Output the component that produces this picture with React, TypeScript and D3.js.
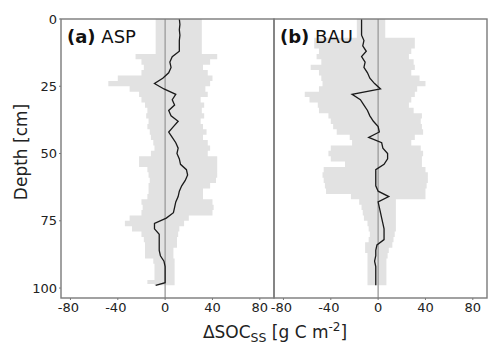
import React from "react";
import * as d3 from "d3";

// depth of each sample, cm
const depths = [
  0, 2, 4, 6, 8, 10, 12, 14, 16, 18, 20, 22, 24, 26, 28, 30, 32, 34, 36, 38,
  40, 42, 44, 46, 48, 50, 52, 54, 56, 58, 60, 62, 64, 66, 68, 70, 72, 74, 76,
  78, 80, 82, 84, 86, 88, 90, 92, 94, 96, 98, 99,
];

// (a) ASP
const aspMean = [
  12, 12.5, 12, 12.5, 12, 12, 12, 6, 4, 5, 3, -2, -9, -1, 9, 6, 8, 3, 5, 11,
  7, 3, 6, 9, 11, 10, 12, 13, 18, 19, 17, 14, 12, 11, 9, 8, 7, 1, -9, -9, -5,
  -5, -5, -5, -4, -1, 0, 0, 0, 0, -8,
];
const aspLow = [
  -8, -8, -8, -8, -8, -8, -8, -25, -20, -18, -20, -40, -48, -30, -22, -20,
  -17, -15, -16, -14, -15, -13, -12, -10, -9, -12, -22, -22, -15, -14, -13,
  -14, -14, -15, -20, -19, -20, -30, -34, -28, -20, -18, -17, -17, -17, -10,
  -9, -9, -9, -15, -9,
];
const aspHigh = [
  31, 31, 31, 31, 31, 31, 31, 44, 38, 32, 36, 40, 38, 34, 36, 30, 33, 31, 33,
  30, 32, 35, 32, 36, 38, 36, 44, 44, 44, 44, 43, 38, 32, 32, 40, 41, 40, 20,
  16, 12, 11, 10, 10, 7, 7, 8, 8, 8, 8, 8, 8,
];

// (b) BAU
const bauMean = [
  -14, -14, -14, -14, -12, -13, -10, -14, -11, -12, -9, -7, -3, 2, -22, -15,
  -12, -9, -7, -4, 0, 1, -8, 3, 4, 8, 8, 5, -2, -2, -2, -2, 0, 9, 0, 1, 2, 3,
  4, 5, 5, 5, -1, -2, -2, -3, -2, -2, -2, -2, -2,
];
const bauLow = [
  -18, -18, -18, -18, -54, -54, -50, -52, -48, -57, -50, -48, -47, -50, -62,
  -58, -51, -50, -42, -40, -38, -35, -24, -22, -40, -42, -40, -28, -46, -47,
  -46, -45, -44, -23, -16, -14, -13, -12, -9, -8, -7, -8, -11, -11, -9, -9,
  -9, -9, -9, -9, -9,
];
const bauHigh = [
  6, 6, 6, 6, 31, 31, 28, 26, 30, 31, 28, 35, 40, 33, 31, 28, 26, 30, 37, 36,
  37, 38, 31, 28, 36, 38, 37, 37, 40, 42, 42, 41, 40, 40, 15, 15, 15, 15, 15,
  15, 14, 13, 12, 9, 8, 7, 7, 7, 7, 7, 7,
];

const yTicks = [0, 25, 50, 75, 100];
const xTicks = [-80, -40, 0, 40, 80];

const W = 489;
const H = 346;
const top = 19;
const bottom = 298;
const panels = [
  { tag: "(a)", name: "ASP", left: 61, right: 274, mean: aspMean, lo: aspLow, hi: aspHigh },
  { tag: "(b)", name: "BAU", left: 274, right: 487, mean: bauMean, lo: bauLow, hi: bauHigh },
];

const font = "DejaVu Sans, Verdana, sans-serif";
const frame = "#7a7a7a";

const y = d3.scaleLinear().domain([0, 103.7]).range([top, bottom]);

function Panel({ p, first }: { p: any; first: boolean }) {
  const x = d3.scaleLinear().domain([-88, 92]).range([p.left, p.right]);
  // band drawn with depth on the "x" side, then flipped, so the steps are horizontal
  const area = d3
    .area<number>()
    .x((d) => y(d))
    .y0((d, i) => x(p.lo[i]))
    .y1((d, i) => x(p.hi[i]))
    .curve(d3.curveStep);
  const line = d3
    .line<number>()
    .y((d) => y(d))
    .x((d, i) => x(p.mean[i]));

  return (
    <g>
      <path
        d={area(depths) || ""}
        transform="matrix(0,1,1,0,0,0)"
        fill="#e2e2e2"
        stroke="none"
      />
      <line x1={x(0)} x2={x(0)} y1={top} y2={bottom} stroke="#a0a0a0" strokeWidth={1.4} />
      <path d={line(depths) || ""} fill="none" stroke="#1a1a1a" strokeWidth={1.3} />
      <rect
        x={p.left}
        y={top}
        width={p.right - p.left}
        height={bottom - top}
        fill="none"
        stroke={frame}
        strokeWidth={1.4}
      />
      {xTicks.map((t) => (
        <g key={t}>
          <line x1={x(t)} x2={x(t)} y1={bottom} y2={bottom + 2} stroke={frame} />
          <text
            x={x(t) + (t < 0 ? -2 : 0)}
            y={bottom + 14}
            textAnchor="middle"
            fontSize={13}
            fontFamily={font}
            fill="#222"
          >
            {t}
          </text>
        </g>
      ))}
      {first &&
        yTicks.map((t) => (
          <g key={t}>
            <line x1={p.left - 2} x2={p.left} y1={y(t)} y2={y(t)} stroke={frame} />
            <text
              x={p.left - 4}
              y={y(t)}
              dy="0.35em"
              textAnchor="end"
              fontSize={13}
              fontFamily={font}
              fill="#222"
            >
              {t}
            </text>
          </g>
        ))}
      <text x={p.left + 6} y={43} fontSize={18} fontFamily={font} fill="#111">
        <tspan fontWeight="bold">{p.tag}</tspan>
        <tspan> {p.name}</tspan>
      </text>
    </g>
  );
}

export default function App() {
  return (
    <svg
      width={W}
      height={H}
      style={{ position: "absolute", left: 0, top: 0, background: "#fff" }}
    >
      {panels.map((p, i) => (
        <Panel key={p.name} p={p} first={i === 0} />
      ))}
      <text
        transform={`translate(27, 152) rotate(-90)`}
        textAnchor="middle"
        fontSize={17}
        fontFamily={font}
        fill="#222"
      >
        Depth [cm]
      </text>
      <text x={275} y={338} textAnchor="middle" fontSize={17} fontFamily={font} fill="#222">
        ΔSOC
        <tspan fontSize={12.5} dy={4}>SS</tspan>
        <tspan dy={-4}> [g C m</tspan>
        <tspan fontSize={12} dy={-7}>-2</tspan>
        <tspan dy={7}>]</tspan>
      </text>
    </svg>
  );
}
